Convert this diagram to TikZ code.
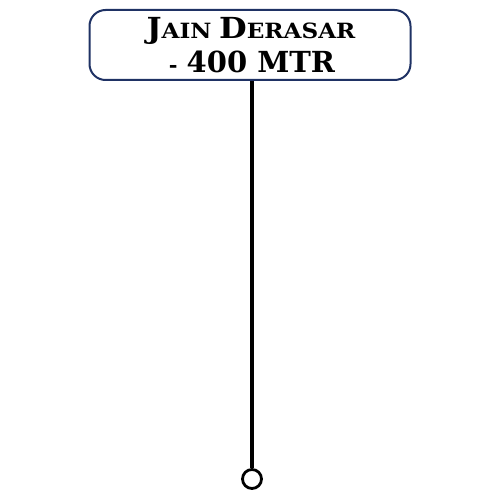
\documentclass[tikz,border=0pt]{standalone}
\usepackage{fontspec}
\setmainfont{DejaVu Serif}
\definecolor{navy}{RGB}{31,50,100}
\newcommand{\bigc}[1]{{\fontsize{29}{30}\selectfont #1}}
\newcommand{\smc}[1]{{\fontsize{21}{22}\selectfont #1}}
\begin{document}
\begin{tikzpicture}[x=1pt,y=-1pt,
  signbox/.style={draw=navy,line width=2pt,rounded corners=16pt,fill=white,minimum width=321pt,minimum height=70pt,inner sep=0pt},
  pole/.style={line width=3.5pt,black},
  ring/.style={circle,draw=black,line width=2.8pt,minimum size=19pt,inner sep=0pt,fill=white}]
\useasboundingbox (0,0) rectangle (500,500);
\node[signbox] (box) at (250,45) {};
\node[font=\bfseries,anchor=base,xscale=1.1] (l1) at (251,39) {\bigc{J}\smc{AIN}\hspace{7pt}\bigc{D}\smc{ERASAR}};
\node[font=\bfseries,anchor=base] (l2) at (252,73) {\smc{-}\hspace{9pt}\bigc{400 MTR}};
\node[ring] (end) at (252,479) {};
\draw[pole] (box.south -| end) -- (end.north);
\end{tikzpicture}
\end{document}
